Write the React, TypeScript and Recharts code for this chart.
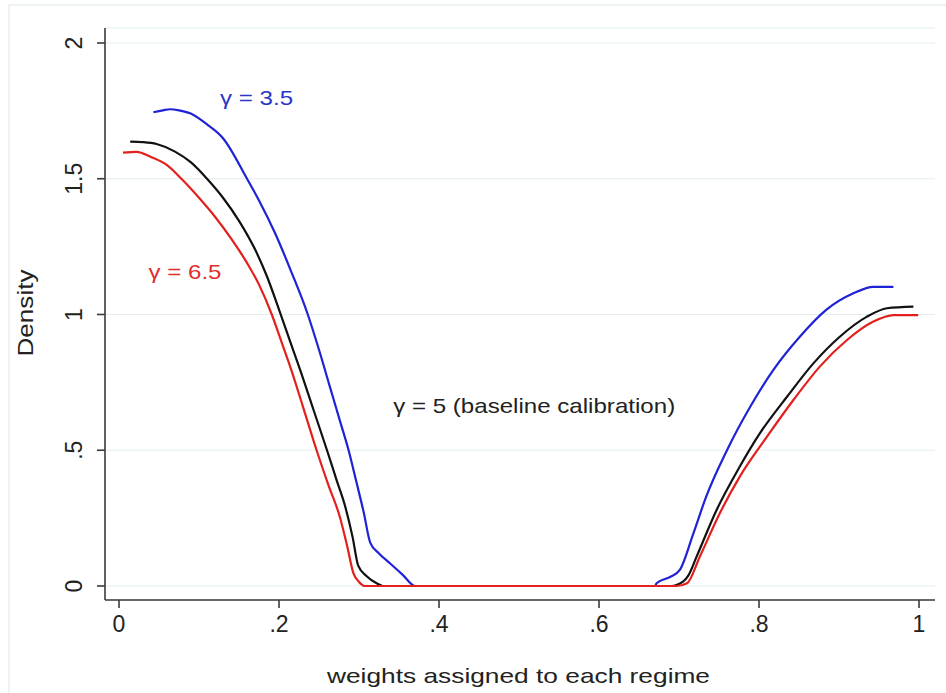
import { LineChart, Line, XAxis, YAxis, CartesianGrid, ReferenceDot, Label } from 'recharts'

// kernel density of weights, three risk-aversion calibrations
const X_TICKS = [0, 0.2, 0.4, 0.6, 0.8, 1]
const Y_TICKS = [0, 0.5, 1, 1.5, 2]

const X_G35 = [0.043, 0.055, 0.064, 0.075, 0.089, 0.11, 0.13, 0.16, 0.175, 0.195, 0.215, 0.236, 0.25, 0.263, 0.276, 0.287, 0.297, 0.306, 0.314, 0.325, 0.339, 0.355, 0.37, 0.67, 0.672, 0.69, 0.701, 0.718, 0.734, 0.76, 0.789, 0.818, 0.851, 0.884, 0.918, 0.943, 0.968]
const Y_G35 = [1.745, 1.752, 1.756, 1.752, 1.741, 1.7, 1.649, 1.5, 1.42, 1.3, 1.16, 1.0, 0.87, 0.74, 0.61, 0.5, 0.38, 0.27, 0.16, 0.12, 0.083, 0.04, 0, 0, 0.01, 0.035, 0.059, 0.194, 0.329, 0.5, 0.66, 0.796, 0.918, 1.017, 1.078, 1.102, 1.102]

const X_G5 = [0.014, 0.03, 0.047, 0.07, 0.09, 0.11, 0.13, 0.15, 0.17, 0.185, 0.201, 0.214, 0.226, 0.243, 0.26, 0.272, 0.283, 0.292, 0.299, 0.31, 0.322, 0.33, 0.69, 0.705, 0.712, 0.722, 0.747, 0.776, 0.801, 0.835, 0.868, 0.901, 0.935, 0.96, 0.993]
const Y_G5 = [1.637, 1.635, 1.628, 1.6, 1.56, 1.5, 1.43, 1.345, 1.24, 1.14, 1.01, 0.9, 0.8, 0.65, 0.5, 0.39, 0.29, 0.18, 0.075, 0.035, 0.01, 0, 0, 0.016, 0.04, 0.108, 0.28, 0.44, 0.562, 0.697, 0.82, 0.918, 0.992, 1.023, 1.029]

const X_G65 = [0.005, 0.022, 0.04, 0.06, 0.078, 0.1, 0.12, 0.14, 0.16, 0.175, 0.191, 0.203, 0.214, 0.23, 0.247, 0.262, 0.276, 0.285, 0.293, 0.3, 0.3075, 0.697, 0.71, 0.726, 0.751, 0.776, 0.81, 0.843, 0.876, 0.91, 0.943, 0.968, 0.999]
const Y_G65 = [1.596, 1.599, 1.58, 1.55, 1.5, 1.43, 1.36, 1.28, 1.19, 1.11, 1.0, 0.9, 0.808, 0.66, 0.5, 0.37, 0.255, 0.15, 0.047, 0.015, 0, 0, 0.01, 0.108, 0.268, 0.403, 0.55, 0.685, 0.808, 0.906, 0.974, 0.998, 0.998]

const NOTES = [
    { text: 'γ = 3.5', x: 0.172, y: 1.772, color: '#2a35c8', len: 73 },
    { text: 'γ = 6.5', x: 0.0825, y: 1.129, color: '#de2e2a', len: 73 },
    { text: 'γ = 5 (baseline calibration)', x: 0.519, y: 0.636, color: '#222222', len: 282 },
]

const FONT = '"Liberation Sans", Arial, Helvetica, sans-serif'
const AXIS = '#3a3a3a'

const toPoints = (xs: number[], ys: number[]) => xs.map((x, i) => ({ x, y: ys[i] }))

const fmt = (v: number) => {
    if (v === 0) return '0'
    if (Number.isInteger(v)) return String(v)
    return String(v).replace(/^0/, '')
}

function XTick({ x, y, payload }: any) {
    return (
        <text x={x} y={y + 22} textAnchor="middle" fontSize={23} fill="#222" fontFamily={FONT}>
            {fmt(payload.value)}
        </text>
    )
}

function YTick({ x, y, payload }: any) {
    const bx = x - 13
    return (
        <text x={bx} y={y} transform={`rotate(-90 ${bx} ${y})`} textAnchor="middle" fontSize={23} fill="#222" fontFamily={FONT}>
            {fmt(payload.value)}
        </text>
    )
}

export default function App() {
    return (
        <div style={{ position: 'fixed', left: 0, top: 0, width: 946, height: 693, background: '#fff', overflow: 'hidden' }}>
            <div style={{ position: 'absolute', left: 8, top: 4, width: 960, height: 720, border: '2px solid #edf2f4' }} />
            <div style={{ position: 'absolute', left: 0, top: 0 }}>
                <LineChart width={946} height={693} margin={{ top: 28, right: 11, bottom: 33, left: 5 }}>
                    <CartesianGrid vertical={false} stroke="#e4eef0" strokeWidth={1.2} />
                    <XAxis
                        dataKey="x"
                        type="number"
                        domain={[-0.0175, 1.02]}
                        ticks={X_TICKS}
                        allowDataOverflow
                        height={60}
                        stroke={AXIS}
                        strokeWidth={1.6}
                        tickSize={8}
                        tick={<XTick />}
                    >
                        <Label
                            content={(p: any) => {
                                const vb = p.viewBox || { x: 105, y: 600, width: 830, height: 60 }
                                return (
                                    <text x={vb.x + vb.width / 2 - 1.5} y={vb.y + 83} textAnchor="middle" fontSize={21} fill="#222" fontFamily={FONT} textLength={383} lengthAdjust="spacingAndGlyphs">
                                        weights assigned to each regime
                                    </text>
                                )
                            }}
                        />
                    </XAxis>
                    <YAxis
                        type="number"
                        domain={[-0.0516, 2.0552]}
                        ticks={Y_TICKS}
                        allowDataOverflow
                        width={100}
                        stroke={AXIS}
                        strokeWidth={1.6}
                        tickSize={8}
                        tick={<YTick />}
                    >
                        <Label
                            content={(p: any) => {
                                const vb = p.viewBox || { x: 5, y: 28, width: 100, height: 572 }
                                const cx = vb.x + 28
                                const cy = vb.y + vb.height / 2 - 1
                                return (
                                    <text x={cx} y={cy} transform={`rotate(-90 ${cx} ${cy})`} textAnchor="middle" fontSize={22} fill="#222" fontFamily={FONT} textLength={87} lengthAdjust="spacingAndGlyphs">
                                        Density
                                    </text>
                                )
                            }}
                        />
                    </YAxis>
                    <Line data={toPoints(X_G35, Y_G35)} dataKey="y" type="monotone" stroke="#1f22d6" strokeWidth={2.2} dot={false} isAnimationActive={false} />
                    <Line data={toPoints(X_G5, Y_G5)} dataKey="y" type="monotone" stroke="#111111" strokeWidth={2.2} dot={false} isAnimationActive={false} />
                    <Line data={toPoints(X_G65, Y_G65)} dataKey="y" type="monotone" stroke="#e3201c" strokeWidth={2.2} dot={false} isAnimationActive={false} />
                    {NOTES.map((n) => (
                        <ReferenceDot
                            key={n.text}
                            x={n.x}
                            y={n.y}
                            r={0}
                            fill="none"
                            stroke="none"
                            label={(p: any) => {
                                const vb = p.viewBox
                                return (
                                    <text x={vb.x} y={vb.y} textAnchor="middle" fontSize={21} fill={n.color} fontFamily={FONT} textLength={n.len} lengthAdjust="spacingAndGlyphs">
                                        {n.text}
                                    </text>
                                )
                            }}
                        />
                    ))}
                </LineChart>
            </div>
        </div>
    )
}
